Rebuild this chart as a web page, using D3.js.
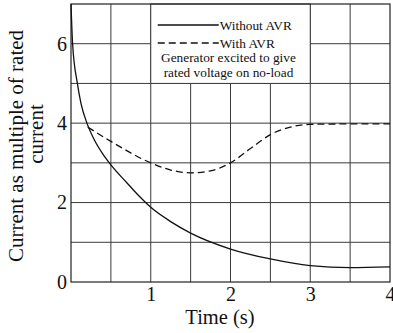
<!DOCTYPE html>
<html>
<head>
<meta charset="utf-8">
<script src="https://cdn.jsdelivr.net/npm/d3@7"></script>
<style>
  html, body { margin: 0; padding: 0; background: #fff; }
  svg { display: block; font-family: "Liberation Serif", "Times New Roman", serif; }
</style>
</head>
<body>
<div id="chart"></div>
<script>
// 数据 - 发电机短路电流（额定电流倍数）
const withoutAvrTime = [0, 0.02, 0.08, 0.125, 0.2, 0.3, 0.4, 0.5, 0.7, 0.85, 1.0, 1.25, 1.5, 2.0, 2.5, 3.0, 3.5, 4.0];
const withoutAvrCurrent = [7.0, 6.0, 5.0, 4.5, 4.0, 3.55, 3.22, 2.95, 2.5, 2.17, 1.88, 1.52, 1.23, 0.83, 0.58, 0.41, 0.36, 0.38];

const withAvrTime = [0.21, 0.5, 1.0, 1.25, 1.5, 1.75, 2.0, 2.25, 2.5, 2.75, 3.0, 3.5, 4.0];
const withAvrCurrent = [3.9, 3.54, 3.0, 2.82, 2.75, 2.8, 3.0, 3.36, 3.71, 3.9, 3.97, 3.98, 3.98];

const xTicks = [1, 2, 3, 4];
const yTicks = [0, 2, 4, 6];
const xGrid = [0.5, 1, 1.5, 2, 2.5, 3, 3.5];
const yGrid = [1, 2, 3, 4, 5, 6];

const legendLabels = ['Without AVR', 'With AVR'];
const noteLines = ['Generator excited to give', 'rated voltage on no-load'];
const yTitleLines = ['Current as multiple of rated', 'current'];

const width = 393, height = 333;
const margin = { top: 4, right: 3, bottom: 51, left: 71 };
const innerW = width - margin.left - margin.right;
const innerH = height - margin.top - margin.bottom;

const svg = d3.select('#chart').append('svg')
    .attr('width', width)
    .attr('height', height);

const g = svg.append('g')
    .attr('transform', `translate(${margin.left},${margin.top})`);

const x = d3.scaleLinear().domain([0, 4]).range([0, innerW]);
const y = d3.scaleLinear().domain([0, 7]).range([innerH, 0]);

const gridColor = '#3a3a3a';

// 网格
g.selectAll('.vgrid').data(xGrid).enter().append('line')
    .attr('x1', d => x(d)).attr('x2', d => x(d))
    .attr('y1', 0).attr('y2', innerH)
    .attr('stroke', gridColor).attr('stroke-width', 1);

g.selectAll('.hgrid').data(yGrid).enter().append('line')
    .attr('x1', 0).attr('x2', innerW)
    .attr('y1', d => y(d)).attr('y2', d => y(d))
    .attr('stroke', gridColor).attr('stroke-width', 1);

// 图例框（覆盖网格）
g.append('rect')
    .attr('x', x(1)).attr('y', y(7))
    .attr('width', x(3) - x(1)).attr('height', y(5) - y(7))
    .attr('fill', '#fff')
    .attr('stroke', gridColor).attr('stroke-width', 1);

// 外框
g.append('rect')
    .attr('x', 0).attr('y', 0)
    .attr('width', innerW).attr('height', innerH)
    .attr('fill', 'none')
    .attr('stroke', '#222').attr('stroke-width', 1.2);

// 曲线
const line = d3.line()
    .x(d => x(d[0]))
    .y(d => y(d[1]))
    .curve(d3.curveMonotoneX);

g.append('path')
    .datum(d3.zip(withoutAvrTime, withoutAvrCurrent))
    .attr('d', line)
    .attr('fill', 'none')
    .attr('stroke', '#111')
    .attr('stroke-width', 1.3);

g.append('path')
    .datum(d3.zip(withAvrTime, withAvrCurrent))
    .attr('d', line)
    .attr('fill', 'none')
    .attr('stroke', '#111')
    .attr('stroke-width', 1.3)
    .attr('stroke-dasharray', '7,4');

// 坐标轴标签
const xAxis = d3.axisBottom(x).tickValues(xTicks).tickSize(0).tickPadding(5)
    .tickFormat(d3.format('d'));
const xg = g.append('g').attr('transform', `translate(0,${innerH})`).call(xAxis);
xg.select('.domain').remove();
xg.selectAll('text').attr('font-size', 20).attr('fill', '#111')
    .attr('font-family', '"Liberation Serif", serif');

const yAxis = d3.axisLeft(y).tickValues(yTicks).tickSize(0).tickPadding(4)
    .tickFormat(d3.format('d'));
const yg = g.append('g').call(yAxis);
yg.select('.domain').remove();
yg.selectAll('text').attr('font-size', 20).attr('fill', '#111')
    .attr('font-family', '"Liberation Serif", serif');

svg.append('text')
    .attr('x', 220)
    .attr('y', 324)
    .attr('text-anchor', 'middle')
    .attr('font-size', 20.5)
    .attr('fill', '#111')
    .text('Time (s)');

// 纵轴标题（两行）
const titleCenters = [146, 134];
const titleBase = [23, 43];
yTitleLines.forEach((t, i) => {
    svg.append('text')
        .attr('transform', `translate(${titleBase[i]},${titleCenters[i]}) rotate(-90)`)
        .attr('text-anchor', 'middle')
        .attr('font-size', 21)
        .attr('fill', '#111')
        .text(t);
});

// 图例
const lgX1 = x(1) + 7, lgX2 = x(1) + 68;
const lgY = [21, 39];
lgY.forEach((ly, i) => {
    g.append('line')
        .attr('x1', lgX1).attr('x2', lgX2)
        .attr('y1', ly).attr('y2', ly)
        .attr('stroke', '#111').attr('stroke-width', 1.3)
        .attr('stroke-dasharray', i === 1 ? '7,4' : null);
    g.append('text')
        .attr('x', lgX2 + 1).attr('y', ly + 4.5)
        .attr('font-size', 13.3).attr('fill', '#111')
        .text(legendLabels[i]);
});
noteLines.forEach((t, i) => {
    g.append('text')
        .attr('x', (x(1) + x(3)) / 2 - 2).attr('y', 58 + i * 15)
        .attr('text-anchor', 'middle')
        .attr('font-size', 13.3).attr('fill', '#111')
        .text(t);
});
</script>
</body>
</html>
